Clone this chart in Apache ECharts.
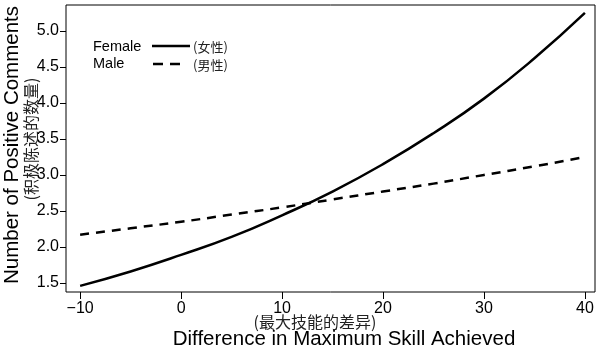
<!DOCTYPE html>
<html>
<head>
<meta charset="utf-8">
<script src="https://cdn.jsdelivr.net/npm/echarts@6/dist/echarts.min.js"></script>
<style>
  html, body { margin: 0; padding: 0; background: #fff; }
  #chart { width: 600px; height: 349px; }
</style>
</head>
<body>
<div id="chart"></div>
<script>
// Difference in maximum skill achieved (x) and fitted number of positive comments
const skillDiff = [-10, -5, 0, 5, 10, 15, 20, 25, 30, 35, 40];
const femaleComments = [1.46, 1.66, 1.89, 2.14, 2.44, 2.77, 3.15, 3.58, 4.06, 4.62, 5.25];
const maleComments = [2.17, 2.26, 2.35, 2.45, 2.55, 2.66, 2.77, 2.88, 3.00, 3.12, 3.25];

const xTicks = [-10, 0, 10, 20, 30, 40];
const yTicks = [1.5, 2.0, 2.5, 3.0, 3.5, 4.0, 4.5, 5.0];

const FONT = '"Liberation Sans", Arial, Helvetica, sans-serif';
const CJK = '"Noto Sans CJK SC", "Noto Sans", sans-serif';

const chart = echarts.init(document.getElementById('chart'));

function pairs(xs, ys) {
  return xs.map((x, i) => [x, ys[i]]);
}

chart.setOption({
  backgroundColor: '#fff',
  animation: false,
  grid: {
    left: 66, right: 5, top: 5, bottom: 57,
    show: true, borderColor: '#000', borderWidth: 1, backgroundColor: 'transparent'
  },
  xAxis: {
    type: 'value',
    min: -11.4, max: 41,
    axisLine: { show: false, onZero: false },
    splitLine: { show: false },
    axisTick: { show: true, length: 7, customValues: xTicks, lineStyle: { color: '#000', width: 1 } },
    axisLabel: {
      customValues: xTicks, margin: 9, color: '#000', fontFamily: FONT, fontSize: 16,
      formatter: v => (v < 0 ? '\u2212' + Math.abs(v) : String(v))
    }
  },
  yAxis: {
    type: 'value',
    min: 1.375, max: 5.36,
    axisLine: { show: false, onZero: false },
    splitLine: { show: false },
    axisTick: { show: true, length: 6, customValues: yTicks, lineStyle: { color: '#000', width: 1 } },
    axisLabel: {
      customValues: yTicks, margin: 7, color: '#000', fontFamily: FONT, fontSize: 16,
      formatter: v => v.toFixed(1)
    }
  },
  series: [
    {
      name: 'Female', type: 'line', smooth: true, showSymbol: false,
      data: pairs(skillDiff, femaleComments),
      lineStyle: { color: '#000', width: 2.5 }
    },
    {
      name: 'Male', type: 'line', smooth: true, showSymbol: false,
      data: pairs(skillDiff, maleComments),
      lineStyle: { color: '#000', width: 2.5, type: [9, 7] }
    }
  ],
  graphic: [
    // y axis titles
    {
      type: 'text', x: 12, y: 145, rotation: Math.PI / 2,
      style: { text: 'Number of Positive Comments', font: '20.5px ' + FONT, fill: '#000', align: 'center', verticalAlign: 'middle' }
    },
    {
      type: 'text', x: 31, y: 139, rotation: Math.PI / 2,
      style: { text: '(积极陈述的数量)', font: '16px ' + CJK, fill: '#222', align: 'center', verticalAlign: 'middle' }
    },
    // x axis titles
    {
      type: 'text', x: 315, y: 322,
      style: { text: '(最大技能的差异)', font: '16px ' + CJK, fill: '#222', align: 'center', verticalAlign: 'middle' }
    },
    {
      type: 'text', x: 344, y: 339,
      style: { text: 'Difference in Maximum Skill Achieved', font: '20.5px ' + FONT, fill: '#000', align: 'center', verticalAlign: 'middle' }
    },
    // legend
    {
      type: 'text', x: 93, y: 47,
      style: { text: 'Female', font: '14.5px ' + FONT, fill: '#000', verticalAlign: 'middle' }
    },
    {
      type: 'line', shape: { x1: 152, y1: 46, x2: 190, y2: 46 },
      style: { stroke: '#000', lineWidth: 2.5 }
    },
    {
      type: 'text', x: 193, y: 47,
      style: { text: '(女性)', font: '13px ' + CJK, fill: '#222', verticalAlign: 'middle' }
    },
    {
      type: 'text', x: 93, y: 64,
      style: { text: 'Male', font: '14.5px ' + FONT, fill: '#000', verticalAlign: 'middle' }
    },
    {
      type: 'line', shape: { x1: 153, y1: 64, x2: 180, y2: 64 },
      style: { stroke: '#000', lineWidth: 2.5, lineDash: [10, 7] }
    },
    {
      type: 'text', x: 193, y: 65,
      style: { text: '(男性)', font: '13px ' + CJK, fill: '#222', verticalAlign: 'middle' }
    }
  ]
});
</script>
</body>
</html>
